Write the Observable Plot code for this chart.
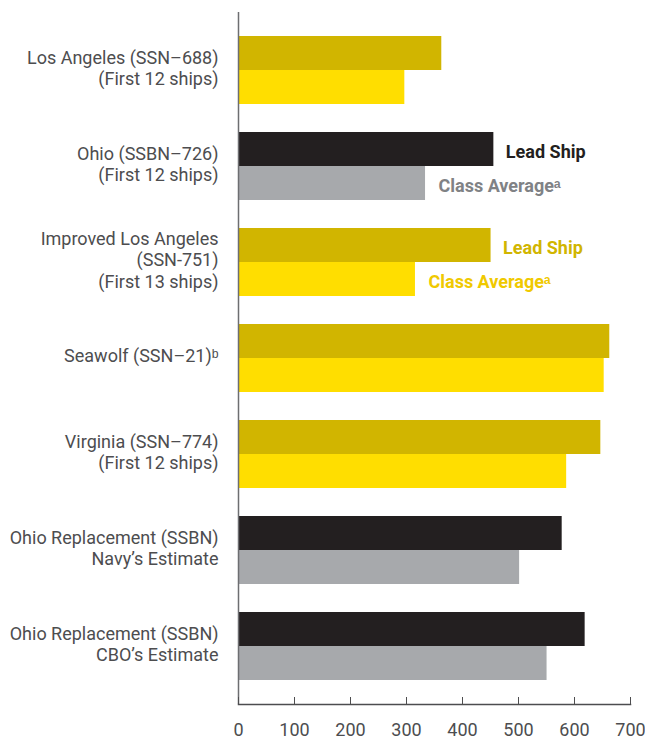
<!DOCTYPE html>
<html>
<head>
<meta charset="utf-8">
<script src="https://cdn.jsdelivr.net/npm/d3@7"></script>
<script src="https://cdn.jsdelivr.net/npm/@observablehq/plot@0.6"></script>
<style>
  html, body { margin: 0; padding: 0; background: #fff; }
</style>
</head>
<body>
<div id="chart"></div>
<script>
const categories = [
  "Los Angeles (SSN–688)\n(First 12 ships)",
  "Ohio (SSBN–726)\n(First 12 ships)",
  "Improved Los Angeles\n(SSN-751)\n(First 13 ships)",
  "Seawolf (SSN–21)ᵇ",
  "Virginia (SSN–774)\n(First 12 ships)",
  "Ohio Replacement (SSBN)\nNavy’s Estimate",
  "Ohio Replacement (SSBN)\nCBO’s Estimate"
];
const leadShip     = [363, 456, 451, 663, 647, 578, 619];
const classAverage = [297, 334, 316, 653, 586, 502, 551];
const palette      = ["yellow", "black", "yellow", "yellow", "yellow", "black", "black"];
const xTicks = [0, 100, 200, 300, 400, 500, 600, 700];

const colors = {
  yellow: {lead: "#d1b500", avg: "#ffde00", leadText: "#d1b500", avgText: "#f0c900"},
  black:  {lead: "#231f20", avg: "#a7a9ac", leadText: "#231f20", avgText: "#808285"}
};

const rows = categories.map((c, i) => ({cat: c, lead: leadShip[i], avg: classAverage[i], pal: palette[i]}));

const notes = [
  {cat: categories[1], x: leadShip[1], text: "Lead Ship", kind: "lead", pal: "black"},
  {cat: categories[1], x: classAverage[1], text: "Class Averageᵃ", kind: "avg", pal: "black"},
  {cat: categories[2], x: leadShip[2], text: "Lead Ship", kind: "lead", pal: "yellow"},
  {cat: categories[2], x: classAverage[2], text: "Class Averageᵃ", kind: "avg", pal: "yellow"}
];

const half = 34;

const chart = Plot.plot({
  width: 645,
  height: 740,
  marginLeft: 238,
  marginRight: 15,
  marginTop: 12,
  marginBottom: 36,
  style: {fontFamily: "Roboto, sans-serif", fontSize: "18px", color: "#4d4d4f", background: "#fff"},
  x: {domain: [0, 700]},
  y: {domain: categories, paddingInner: 0.293, paddingOuter: 0.245},
  color: {type: "identity"},
  marks: [
    Plot.barX(rows, {y: "cat", x: "lead", fill: d => colors[d.pal].lead, insetBottom: half}),
    Plot.barX(rows, {y: "cat", x: "avg", fill: d => colors[d.pal].avg, insetTop: half}),
    Plot.text(notes.filter(d => d.kind === "lead"), {
      y: "cat", x: "x", text: "text", dx: 12, dy: -half / 2 + 3, textAnchor: "start",
      fill: d => colors[d.pal].leadText, fontWeight: "bold", fontSize: 18
    }),
    Plot.text(notes.filter(d => d.kind === "avg"), {
      y: "cat", x: "x", text: "text", dx: 13, dy: half / 2 + 3, textAnchor: "start",
      fill: d => colors[d.pal].avgText, fontWeight: "bold", fontSize: 18
    }),
    Plot.ruleX([0], {stroke: "#6d6e71", strokeWidth: 1.5}),
    Plot.frame({anchor: "bottom", stroke: "#4d4d4f", strokeWidth: 1.5}),
    Plot.axisY({tickSize: 0, tickPadding: 20, fontSize: 18, lineHeight: 1.2, dy: -3, label: null, fill: "#4d4d4f"}),
    Plot.axisX({ticks: xTicks, tickSize: -7, tickPadding: 26, fontSize: 18, label: null, stroke: "#4d4d4f", fill: "#4d4d4f"})
  ]
});
document.getElementById("chart").appendChild(chart);
</script>
</body>
</html>
